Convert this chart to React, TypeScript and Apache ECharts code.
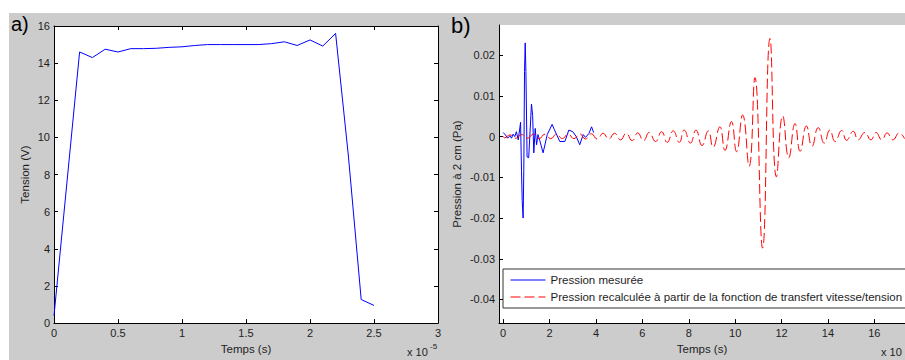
import React, { useEffect, useRef } from 'react';
import * as echarts from 'echarts';

// ---- Panel a) : Tension vs temps (x 1e-5 s) ----
const tensionTime = [0, 0.2, 0.3, 0.4, 0.5, 0.6, 0.7, 0.8, 0.9, 1.0, 1.1, 1.2, 1.3, 1.4, 1.5, 1.6, 1.7, 1.8, 1.9, 2.0, 2.1, 2.2, 2.3, 2.4, 2.5];
const tensionValues = [0.4, 14.6, 14.3, 14.75, 14.6, 14.78, 14.78, 14.8, 14.85, 14.88, 14.95, 15.0, 15.0, 15.0, 15.0, 15.0, 15.05, 15.15, 14.95, 15.25, 14.92, 15.6, 9.0, 1.27, 0.95];

// ---- Panel b) : Pression mesurée ----
const measuredTime = [0, 0.1, 0.19, 0.29, 0.36, 0.43, 0.5, 0.57, 0.65, 0.75, 0.79, 0.82, 0.86, 0.89, 0.92, 0.95, 0.98, 1.03, 1.1, 1.22, 1.27, 1.32, 1.38, 1.44, 1.5, 1.58, 1.72, 1.9, 2.11, 2.2, 2.44, 2.66, 2.83, 3.0, 3.15, 3.3, 3.45, 3.55, 3.7, 3.81, 3.9];
const measuredPressure = [0.001, 0.0004, -0.0004, 0.0002, -0.0004, 0.0006, 0, 0.0012, -0.0008, 0.0035, -0.0085, -0.0157, -0.02, -0.008, 0.016, 0.023, 0.016, -0.005, -0.0052, 0.008, 0.0052, -0.004, 0.002, -0.002, 0.0005, -0.001, -0.004, 0.0005, 0.003, 0.0018, -0.0012, -0.0012, 0.0016, 0.0012, 0.0, -0.002, 0.0005, -0.0002, 0.0008, 0.0024, 0.001];

// ---- Panel b) : Pression recalculée (extrema of the wave) ----
const recalcTime = [0, 0.05, 0.3, 0.55, 0.8, 1.05, 1.3, 1.55, 1.8, 2.05, 2.3, 2.55, 2.8, 3.05, 3.3, 3.55, 3.8, 4.05, 4.31, 4.55, 4.8, 5.06, 5.3, 5.56, 5.8, 6.05, 6.29, 6.57, 6.83, 7.07, 7.33, 7.59, 7.8, 8.07, 8.31, 8.57, 8.84, 9.05, 9.34, 9.56, 9.84, 10.06, 10.32, 10.6, 10.85, 11.18, 11.5, 11.78, 12.05, 12.31, 12.58, 12.8, 13.07, 13.31, 13.58, 13.84, 14.08, 14.31, 14.59, 14.8, 15.09, 15.3, 15.59, 15.85, 16.07, 16.32, 16.55, 16.8, 17.07, 17.3];
const recalcPressure = [0, -0.0003, 0.0004, -0.0004, 0.0005, -0.0004, 0.0006, -0.0005, 0.0006, -0.0005, 0.0006, -0.0005, 0.0006, -0.0005, 0.0007, -0.0006, 0.0007, -0.0006, 0.0008, -0.0006, 0.0008, -0.0008, 0.0008, -0.001, 0.0009, -0.001, 0.001, -0.0012, 0.0012, -0.0014, 0.0014, -0.0014, 0.0016, -0.0016, 0.0016, -0.0022, 0.0014, -0.0026, 0.0024, -0.0034, 0.0037, -0.0037, 0.0053, -0.0073, 0.0145, -0.0274, 0.0241, -0.0099, 0.0051, -0.0052, 0.0032, -0.0036, 0.0026, -0.0024, 0.0022, -0.0016, 0.0016, -0.0012, 0.0015, -0.0009, 0.0013, -0.0008, 0.001, -0.0008, 0.001, -0.0008, 0.0009, -0.0008, 0.0009, -0.0005];

// ---- Tick labels ----
const rightXTicks = [0, 2, 4, 6, 8, 10, 12, 14, 16];
const rightYTicks = [-0.04, -0.03, -0.02, -0.01, 0, 0.01, 0.02];

const seriesNames = ['Pression mesurée', 'Pression recalculée à partir de la fonction de transfert vitesse/tension'];

const FONT = "'Liberation Sans', Arial, Helvetica, sans-serif";
const TXT = '#1e1e1e';
const AX = '#000000';

export default function App() {
  const ref = useRef<HTMLDivElement>(null);

  useEffect(() => {
    if (!ref.current) return;
    const chart = echarts.init(ref.current, undefined, { renderer: 'svg' });

    const tickBase = { inside: true, length: 4, lineStyle: { color: AX, width: 1 } };
    const lineBase = { onZero: false, lineStyle: { color: AX, width: 1 } };
    const labelBase = { color: TXT, fontSize: 11, fontFamily: FONT };
    const nameStyle = { color: TXT, fontSize: 11.5, fontFamily: FONT };

    const option: any = {
      animation: false,
      backgroundColor: '#cccccc',
      textStyle: { fontFamily: FONT },
      grid: [
        { left: 54, top: 26, width: 384, height: 302, show: true, backgroundColor: '#ffffff', borderWidth: 0 },
        { left: 499, top: 25, width: 406, height: 303, show: true, backgroundColor: '#ffffff', borderWidth: 0 },
      ],
      xAxis: [
        {
          gridIndex: 0, type: 'value', position: 'bottom', min: 0, max: 3, interval: 0.5,
          axisLine: lineBase, axisTick: tickBase, splitLine: { show: false },
          axisLabel: { ...labelBase, margin: 4 },
          name: 'Temps (s)', nameLocation: 'middle', nameGap: 18, nameTextStyle: nameStyle,
        },
        {
          gridIndex: 0, type: 'value', position: 'top', min: 0, max: 3, interval: 0.5,
          axisLine: lineBase, axisTick: tickBase, splitLine: { show: false }, axisLabel: { show: false },
        },
        {
          gridIndex: 1, type: 'value', position: 'bottom', min: -0.18, max: 17.32,
          axisLine: lineBase,
          axisTick: { ...tickBase, customValues: rightXTicks },
          axisLabel: { ...labelBase, margin: 4, customValues: rightXTicks },
          splitLine: { show: false },
          name: 'Temps (s)', nameLocation: 'middle', nameGap: 18, nameTextStyle: nameStyle,
        },
      ],
      yAxis: [
        {
          gridIndex: 0, type: 'value', position: 'left', min: 0, max: 16, interval: 2,
          axisLine: lineBase, axisTick: tickBase, splitLine: { show: false },
          axisLabel: { ...labelBase, margin: 4 },
          name: 'Tension (V)', nameLocation: 'middle', nameGap: 23, nameTextStyle: nameStyle,
        },
        {
          gridIndex: 0, type: 'value', position: 'right', min: 0, max: 16, interval: 2,
          axisLine: lineBase, axisTick: tickBase, splitLine: { show: false }, axisLabel: { show: false },
        },
        {
          gridIndex: 1, type: 'value', position: 'left', min: -0.0458, max: 0.0274,
          axisLine: lineBase,
          axisTick: { ...tickBase, customValues: rightYTicks },
          axisLabel: { ...labelBase, margin: 4, customValues: rightYTicks },
          splitLine: { show: false },
          name: 'Pression à 2 cm (Pa)', nameLocation: 'middle', nameGap: 36, nameTextStyle: nameStyle,
        },
      ],
      legend: {
        orient: 'vertical', left: 503, top: 269,
        padding: [5, 12, 5, 7], itemGap: 5, itemWidth: 35, itemHeight: 12,
        backgroundColor: '#ffffff', borderColor: '#333333', borderWidth: 1, borderRadius: 0,
        itemStyle: { opacity: 0, borderWidth: 0 },
        lineStyle: { width: 1 },
        textStyle: { color: TXT, fontSize: 11.5, fontFamily: FONT },
        data: seriesNames,
      },
      series: [
        {
          type: 'line', xAxisIndex: 0, yAxisIndex: 0, showSymbol: false, symbol: 'none',
          lineStyle: { color: '#0000ff', width: 1 }, itemStyle: { color: '#0000ff' },
          data: tensionTime.map((t, i) => [t, tensionValues[i]]),
        },
        {
          name: seriesNames[0], type: 'line', xAxisIndex: 2, yAxisIndex: 2, showSymbol: false, symbol: 'none',
          lineStyle: { color: '#0000ff', width: 1 }, itemStyle: { color: '#0000ff' },
          data: measuredTime.map((t, i) => [t, measuredPressure[i]]),
        },
        {
          name: seriesNames[1], type: 'line', xAxisIndex: 2, yAxisIndex: 2, showSymbol: false, symbol: 'none',
          smooth: 0.5,
          lineStyle: { color: '#ff0000', width: 1, type: [10, 4] }, itemStyle: { color: '#ff0000' },
          data: recalcTime.map((t, i) => [t, recalcPressure[i]]),
        },
      ],
      graphic: [
        { type: 'rect', silent: true, shape: { x: 0, y: 0, width: 905, height: 13 }, style: { fill: '#ffffff' } },
        { type: 'rect', silent: true, shape: { x: 0, y: 0, width: 9, height: 360 }, style: { fill: '#ffffff' } },
        { type: 'text', x: 11, y: 14, style: { text: 'a)', fontSize: 20, fontFamily: FONT, fill: '#000' } },
        { type: 'text', x: 451, y: 14, style: { text: 'b)', fontSize: 22, fontFamily: FONT, fill: '#000' } },
        { type: 'text', x: 407, y: 346, style: { text: 'x 10', fontSize: 11, fontFamily: FONT, fill: TXT } },
        { type: 'text', x: 430, y: 342, style: { text: '-5', fontSize: 8, fontFamily: FONT, fill: TXT } },
        { type: 'text', x: 881, y: 346, style: { text: 'x 10', fontSize: 11, fontFamily: FONT, fill: TXT } },
      ],
    };

    chart.setOption(option);
    return () => chart.dispose();
  }, []);

  return (
    <div style={{ position: 'fixed', left: 0, top: 0, width: 905, height: 360, background: '#fff' }}>
      <div ref={ref} style={{ width: 905, height: 360 }} />
    </div>
  );
}
